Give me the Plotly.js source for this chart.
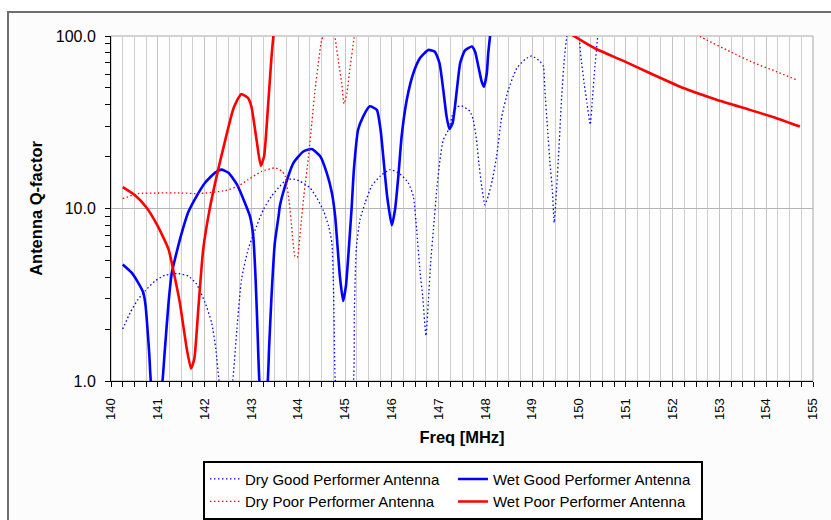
<!DOCTYPE html>
<html><head><meta charset="utf-8">
<script src="https://cdn.plot.ly/plotly-3.0.1.min.js"></script>
<style>
html,body{margin:0;padding:0;background:#fff;}
#wrap{position:relative;width:831px;height:520px;overflow:hidden;}
#frame{position:absolute;left:7px;top:11px;width:900px;height:600px;border-left:2px solid #6e6e6e;border-top:2px solid #6e6e6e;background:#fbfcfb;}
#chart{position:absolute;left:0;top:0;width:831px;height:520px;}
</style></head><body>
<div id="wrap"><div id="frame"></div><div id="chart"></div></div>
<script>
// ---- data (Freq in MHz, Q-factor) ----
const dryGoodFreq = [140.25,140.41,140.58,140.73,140.94,141.15,141.44,141.65,141.83,142.01,142.15,142.24,142.31,142.45,142.6,142.69,142.79,142.93,143.11,143.26,143.43,143.61,143.75,143.9,144.04,144.25,144.4,144.54,144.65,144.72,144.75,144.77,144.79,144.95,145.18,145.2,145.24,145.32,145.43,145.57,145.75,145.96,146.17,146.35,146.46,146.53,146.6,146.66,146.73,146.78,146.83,146.89,146.96,147.03,147.1,147.21,147.31,147.39,147.49,147.67,147.74,147.81,147.86,147.92,147.99,148.06,148.15,148.24,148.35,148.49,148.67,148.85,148.99,149.17,149.24,149.27,149.33,149.38,149.43,149.47,149.52,149.57,149.63,149.69,149.74,149.8,149.87,150.0,150.04,150.11,150.17,150.24,150.28,150.34,150.4,150.45];
const dryGoodQ    = [2.0,2.49,2.98,3.33,3.8,4.1,4.2,4.06,3.64,2.85,2.18,1.53,1.0,0.6,1.0,2.0,3.9,5.8,7.9,9.9,11.8,13.5,14.7,14.8,14.4,13.2,11.5,9.7,7.9,6.3,3.9,2.0,1.03,0.5,1.0,2.5,5.8,8.6,10.8,13.5,15.4,16.8,15.9,14.1,11.8,7.6,4.4,3.1,1.83,2.85,4.85,7.6,12.9,19.2,25,28.6,35.7,38.7,39.4,36.6,32.7,25,18.4,13.5,10.5,11.8,14.7,20.1,34.2,48.7,65,73.3,76.6,71.1,66.6,48.7,28.6,18.4,12.9,8.3,12.9,21.9,44.6,76,100,130,140,100,76,53.2,40.8,30.6,40.8,66.6,100,140];

const wetGoodFreq = [140.25,140.44,140.58,140.69,140.74,140.78,140.82,140.85,140.97,141.1,141.15,141.23,141.3,141.4,141.51,141.65,141.83,142.01,142.22,142.36,142.51,142.69,142.86,142.97,143.04,143.09,143.13,143.17,143.26,143.35,143.38,143.43,143.5,143.58,143.61,143.72,143.9,144.11,144.29,144.47,144.61,144.72,144.79,144.84,144.89,144.96,145.02,145.07,145.14,145.19,145.28,145.39,145.53,145.68,145.76,145.83,145.9,146.0,146.07,146.14,146.21,146.32,146.46,146.6,146.78,146.92,147.02,147.1,147.17,147.23,147.3,147.39,147.46,147.56,147.71,147.78,147.85,147.92,147.97,148.03,148.06,148.1,148.15];
const wetGoodQ    = [4.74,4.25,3.72,3.25,2.72,2.0,1.4,1.0,0.6,1.0,1.51,2.85,4.25,5.54,7.2,9.5,11.8,14.1,16.1,16.8,16.1,13.8,10.8,9.0,6.9,3.89,2.0,1.0,0.6,1.0,1.6,3.1,6.3,9.0,10.4,13.5,18.4,21.4,22.1,20.1,16.1,12.3,9.0,6.06,4.06,2.91,3.56,5.3,9.9,16.8,28.6,34.2,39.1,37.3,28.6,18.4,11.8,8.0,9.9,15.4,26.2,42.7,60.8,74.3,83,81,69.5,48.7,34.2,28.9,31.3,48.7,69.5,82.3,86.8,81,66.6,54.5,50.9,60.8,79.4,100,140];

const dryPoorFreq = [140.25,140.58,141.01,141.51,141.87,142.44,142.72,142.93,143.22,143.5,143.65,143.72,143.81,143.86,143.93,143.98,144.05,144.12,144.22,144.29,144.36,144.43,144.5,144.54,144.62,144.72,144.79,144.86,144.93,144.98,145.04,145.11,145.19,145.25,null,152.5,152.73,153.23,153.72,154.22,154.65];
const dryPoorQ    = [11.4,12.2,12.3,12.3,12.2,12.7,13.5,14.7,16.4,17.2,16.5,15.5,10.8,7.9,5.3,5.2,7.6,11.8,20,31.3,48.7,69.5,95,100,150,130,97,71,53,40.5,46.5,66.5,96,140,null,102,94.8,81.2,70.2,62.2,55.7];

const wetPoorFreq = [140.25,140.5,140.75,141.0,141.23,141.33,141.47,141.62,141.71,141.78,141.87,141.97,142.12,142.29,142.4,142.62,142.78,142.93,143.0,143.11,143.2,143.27,143.36,143.43,143.47,143.52,null,149.7,150.0,150.38,150.95,151.52,152.23,152.94,153.65,154.22,154.72];
const wetPoorQ    = [13.3,12.0,10.2,7.9,5.8,4.4,2.85,1.53,1.18,1.34,2.72,5.8,10.3,16.8,22.4,38.2,46,43.7,39,25,17.7,20,40.8,76,100,140,null,108,96,83.8,71.7,60.8,49.9,42.7,37.3,33.4,29.9];

const seriesNames = ['Dry Good Performer Antenna','Wet Good Performer Antenna','Dry Poor Performer Antenna','Wet Poor Performer Antenna'];

const xTickVals = [140,141,142,143,144,145,146,147,148,149,150,151,152,153,154,155];
const xTickLabels = ['140','141','142','143','144','145','146','147','148','149','150','151','152','153','154','155'];
const yTickVals = [1,10,100];
const yTickLabels = ['1.0','10.0','100.0'];
const yMinorVals = [2,3,4,5,6,7,8,9,20,30,40,50,60,70,80,90];

const FONT = 'Arial, "Liberation Sans", sans-serif';
const DOTS = '1.5px,2.5px';

const traces = [
  {x: dryGoodFreq, y: dryGoodQ, name: seriesNames[0], line:{color:'#0000ff', width:1.3, dash:DOTS, shape:'spline', smoothing:0.5}},
  {x: wetGoodFreq, y: wetGoodQ, name: seriesNames[1], line:{color:'#0000ff', width:2.6, shape:'spline', smoothing:0.5}},
  {x: dryPoorFreq, y: dryPoorQ, name: seriesNames[2], line:{color:'#ff0000', width:1.3, dash:DOTS, shape:'spline', smoothing:0.5}},
  {x: wetPoorFreq, y: wetPoorQ, name: seriesNames[3], line:{color:'#ff0000', width:2.6, shape:'spline', smoothing:0.5}}
].map(t => Object.assign({type:'scatter', mode:'lines', connectgaps:false, hoverinfo:'skip'}, t));

const layout = {
  width: 831, height: 520,
  margin: {l:111, r:18, t:36, b:139, pad:0, autoexpand:false},
  paper_bgcolor: 'rgba(0,0,0,0)',
  plot_bgcolor: '#fdfefd',
  font: {family: FONT, color:'#000'},
  showlegend: true,
  xaxis: {
    range: [140, 155], tickmode:'array', tickvals: xTickVals, ticktext: xTickLabels,
    tickangle: -90, tickfont: {size: 13, family: FONT, color:'#000'},
    ticks: 'outside', ticklen: 5, tickcolor: '#000', tickwidth: 1,
    showgrid: true, gridcolor: '#c4c4c4', gridwidth: 1,
    minor: {dtick: 0.25, tick0: 140, ticks:'outside', ticklen:5, tickcolor:'#000', showgrid:true, gridcolor:'#cfcfcf', gridwidth:1},
    showline: true, linecolor: '#000', linewidth: 1, zeroline: false,
    ticklabelstandoff: 6,
    automargin: false,
    title: {text: '<b>Freq [MHz]</b>', font: {size: 16.5, family: FONT, color:'#000'}, standoff: 12}
  },
  yaxis: {
    type: 'log', range: [0, 2], tickmode:'array', tickvals: yTickVals, ticktext: yTickLabels,
    tickfont: {size: 16, family: FONT, color:'#000'},
    ticks: 'outside', ticklen: 5, tickcolor:'#000', tickwidth:1,
    showgrid: true, gridcolor: '#b4b4b4', gridwidth: 1,
    minor: {tickmode:'array', tickvals: yMinorVals, ticks:'outside', ticklen:5, tickcolor:'#000', showgrid:false},
    showline: true, linecolor:'#000', linewidth:1, zeroline:false,
    ticklabelstandoff: 6,
    automargin: false,
    title: {text: '<b>Antenna Q-factor</b>', font: {size: 16.5, family: FONT, color:'#000'}, standoff: 8}
  },
  yaxis2: {
    overlaying: 'y', anchor: 'x', side: 'left', type: 'log', range: [0, 2],
    tickmode: 'array', tickvals: yTickVals.concat(yMinorVals),
    ticks: 'inside', ticklen: 4, tickcolor:'#000', showticklabels: false,
    showgrid: false, showline: false, zeroline: false
  },
  shapes: [{type:'rect', xref:'paper', yref:'paper', x0:0, x1:1, y0:0, y1:1, line:{color:'#a8a8a8', width:1}, layer:'below'}],
  legend: {
    orientation: 'h', x: 0.131, xanchor: 'left', y: -0.231, yanchor: 'top',
    bgcolor: '#ffffff', bordercolor: '#000', borderwidth: 2,
    font: {size: 15, family: FONT, color:'#000'},
    entrywidth: 203, traceorder: 'normal'
  }
};

Plotly.newPlot('chart', traces, layout, {staticPlot: true, displayModeBar: false});
</script>
</body></html>
